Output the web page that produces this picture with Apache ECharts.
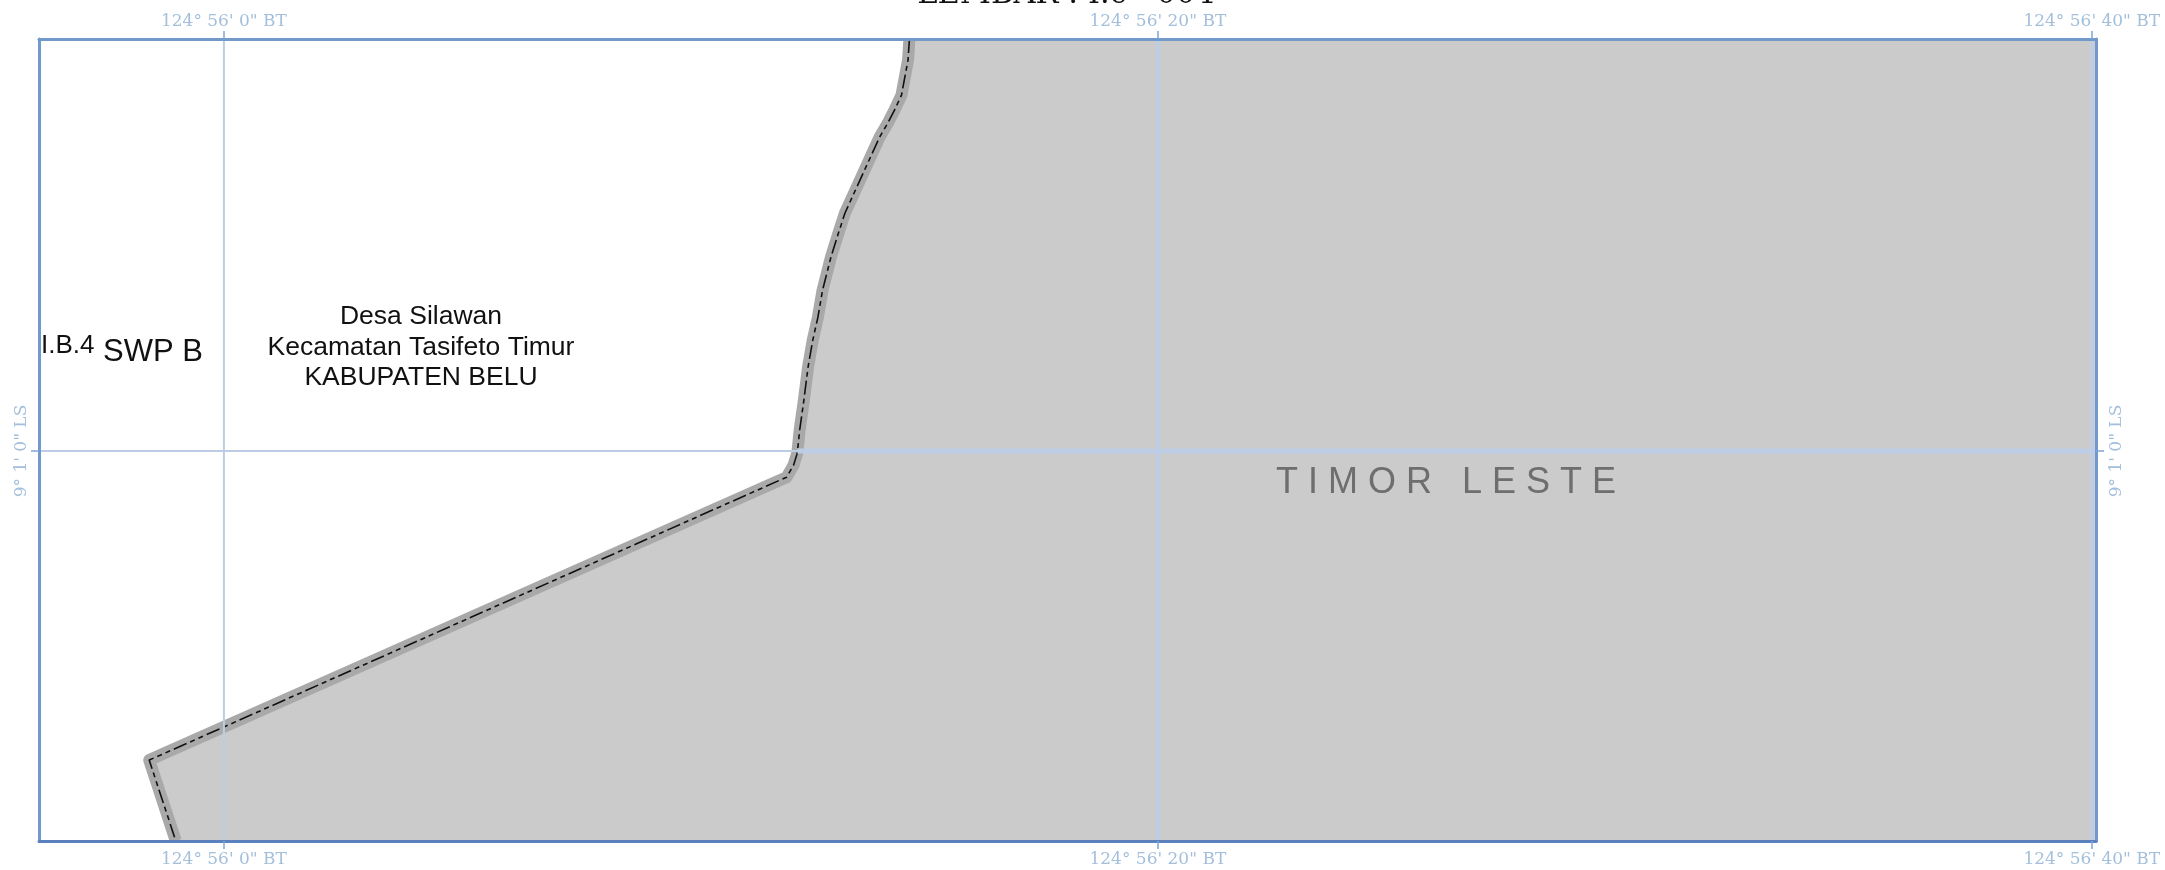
<!DOCTYPE html>
<html>
<head>
<meta charset="utf-8">
<title>LEMBAR : I.c - 004</title>
<style>
  html, body { margin: 0; padding: 0; background: #fff; }
  #map { width: 2165px; height: 870px; }
</style>
<script src="https://cdn.jsdelivr.net/npm/echarts@6/dist/echarts.min.js"></script>
</head>
<body>
<div id="map"></div>
<script>
// Seconds of arc east of 124 deg 56' and south of 9 deg 1'
const lonTicks = [0, 20, 40];
const lonTickLabels = ['124° 56\' 0" BT', '124° 56\' 20" BT', '124° 56\' 40" BT'];
const latTicks = [0];
const latTickLabels = ['9° 1\' 0" LS'];

const lonRange = [-3.96, 40.09];
const latRange = [-8.81, 8.34];

// Border between Belu and Timor Leste from top to bottom
const borderLon = [14.68, 14.65, 14.51, 14.36, 14.21, 14.04, 13.72, 13.30, 13.16, 13.00, 12.82, 12.72, 12.61, 12.51, 12.42, 12.33, 12.28, 12.20, 12.05, -1.60, -1.03];
const borderLat = [-8.81, -8.36, -7.61, -7.29, -7.00, -6.71, -6.01, -5.09, -4.66, -4.15, -3.44, -2.86, -2.37, -1.80, -1.09, -0.45, 0.04, 0.30, 0.56, 6.61, 8.34];

// Where the 9 deg 1' parallel meets the border
const parallelBorderLon = 12.28;

const borderPoints = borderLon.map((lon, i) => [lon, borderLat[i]]);
const timorPoints = borderPoints.concat([[lonRange[1], latRange[1]], [lonRange[1], latRange[0]]]);

const LABEL_FONT = '"DejaVu Serif", serif';
const TEXT_FONT = '"Liberation Sans", Arial, sans-serif';
const LABEL_COLOR = '#a3bfdb';
const GRID_COLOR = '#bdcde6';

const xAxisFor = (position, color, margin) => ({
  type: 'value',
  position,
  min: lonRange[0],
  max: lonRange[1],
  z: 10,
  axisLine: { show: true, onZero: false, lineStyle: { color, width: 3 } },
  axisTick: { show: true, length: 8, customValues: lonTicks, lineStyle: { color: '#7ea6d6', width: 1.5 } },
  axisLabel: {
    customValues: lonTicks,
    margin,
    color: LABEL_COLOR,
    fontFamily: LABEL_FONT,
    fontSize: 17,
    hideOverlap: false,
    formatter: (value) => lonTickLabels[lonTicks.indexOf(value)],
  },
  splitLine: { show: false },
});

const yAxisFor = (position, color, margin) => ({
  type: 'value',
  position,
  inverse: true,
  min: latRange[0],
  max: latRange[1],
  z: 10,
  axisLine: { show: true, onZero: false, lineStyle: { color, width: 3 } },
  axisTick: { show: true, length: 8, customValues: latTicks, lineStyle: { color: '#7ea6d6', width: 1.5 } },
  axisLabel: {
    customValues: latTicks,
    margin,
    rotate: 90,
    color: LABEL_COLOR,
    fontFamily: LABEL_FONT,
    fontSize: 17,
    hideOverlap: false,
    formatter: (value) => latTickLabels[latTicks.indexOf(value)],
  },
  splitLine: { show: false },
});

const gridLine = (data, width) => ({
  type: 'line',
  data,
  z: 6,
  symbol: 'none',
  silent: true,
  lineStyle: { color: GRID_COLOR, width },
});

const series = [
  {
    name: 'Timor Leste',
    type: 'custom',
    z: 2,
    silent: true,
    clip: true,
    data: [0],
    renderItem: (params, api) => ({
      type: 'polygon',
      shape: { points: timorPoints.map(p => api.coord(p)) },
      style: { fill: '#cbcbcb' },
    }),
  },
  {
    name: 'Border band',
    type: 'line',
    data: borderPoints,
    z: 3,
    symbol: 'none',
    silent: true,
    lineStyle: { color: '#a9a9a9', width: 12, cap: 'butt', join: 'round' },
  },
  {
    name: 'Border',
    type: 'line',
    data: borderPoints,
    z: 4,
    symbol: 'none',
    silent: true,
    lineStyle: { color: '#111', width: 1.6, type: [14, 4, 5, 4, 5, 4] },
  },
  // Meridians: the 20" one is drawn heavier on the sheet
  gridLine(latRange.map(lat => [lonTicks[0], lat]), 2),
  gridLine(latRange.map(lat => [lonTicks[1], lat]), 4),
  gridLine(latRange.map(lat => [lonTicks[2], lat]), 3),
  // Parallel: thin over Belu, heavier over Timor Leste
  gridLine([[lonRange[0], latTicks[0]], [parallelBorderLon, latTicks[0]]], 2),
  gridLine([[parallelBorderLon, latTicks[0]], [lonRange[1], latTicks[0]]], 5),
];

const annotation = (text, x, y, fontSize, color, fontFamily, align) => ({
  type: 'text',
  x,
  y,
  z: 20,
  silent: true,
  style: {
    text,
    fill: color || '#111',
    font: `${fontSize}px ${fontFamily || TEXT_FONT}`,
    textAlign: align || 'center',
    textVerticalAlign: 'middle',
  },
});

const chart = echarts.init(document.getElementById('map'), null, { renderer: 'canvas' });
chart.setOption({
  animation: false,
  backgroundColor: '#fff',
  grid: { left: 39, right: 69, top: 39, bottom: 29, show: false },
  xAxis: [xAxisFor('bottom', '#5a80bd', 10), xAxisFor('top', '#7199c9', 9)],
  yAxis: [yAxisFor('left', '#7199cd', 9), yAxisFor('right', '#7199cd', 12)],
  series,
  graphic: [
    annotation('LEMBAR : I.c - 004', 1066, -5, 30.5, '#111', LABEL_FONT),
    annotation('Desa Silawan', 421, 317, 26.5),
    annotation('Kecamatan Tasifeto Timur', 421, 348, 26.5),
    annotation('KABUPATEN BELU', 421, 378, 26.5),
    annotation('I.B.4', 41, 346, 26, '#111', TEXT_FONT, 'left'),
    annotation('SWP B', 153, 352, 31),
    annotation('T I M O R   L E S T E', 1446, 483, 36, '#6e6e6e'),
  ],
});
</script>
</body>
</html>
